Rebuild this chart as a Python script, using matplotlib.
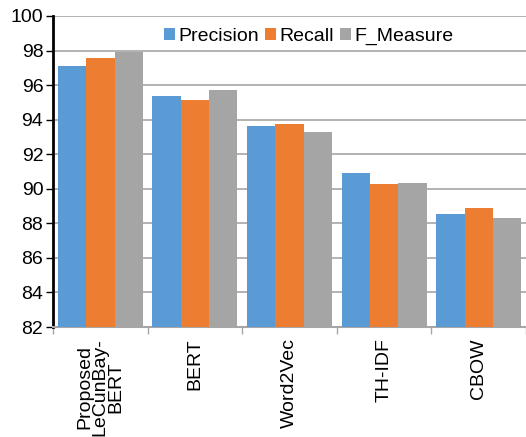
import numpy as np
import matplotlib
matplotlib.use('Agg')
import matplotlib.pyplot as plt

plt.rcParams['font.family'] = ['Liberation Sans', 'DejaVu Sans']

models = ['Proposed\nLeCunBay-\nBERT', 'BERT', 'Word2Vec', 'TH-IDF', 'CBOW']
precision = [97.1, 95.37, 93.63, 90.9, 88.53]
recall = [97.55, 95.15, 93.74, 90.27, 88.88]
f_measure = [97.9, 95.7, 93.26, 90.36, 88.31]

fig = plt.figure(figsize=(5.26, 4.37), dpi=100)
ax = fig.add_axes([0.1008, 0.2517, 0.8992, 0.7117])

x = np.arange(len(models))
w = 0.3
ax.bar(x - w, precision, w, color='#5B9BD5', label='Precision', zorder=3)
ax.bar(x, recall, w, color='#ED7D31', label='Recall', zorder=3)
ax.bar(x + w, f_measure, w, color='#A5A5A5', label='F_Measure', zorder=3)

ax.set_ylim(82, 100)
ax.set_yticks(np.arange(82, 101, 2))
ax.set_xlim(-0.5, len(models) - 0.5)
ax.yaxis.grid(True, color='#A6A6A6', linewidth=1.2, zorder=0)

# category boundaries get the tick marks, names sit in between
ax.set_xticks(np.arange(-0.5, len(models), 1))
ax.set_xticklabels([])
ax.set_xticks(x, minor=True)
ax.set_xticklabels(models, minor=True, rotation=90, fontsize=14,
                   linespacing=0.9)
ax.tick_params(axis='x', which='minor', length=0, pad=8)
ax.tick_params(axis='x', which='major', length=5, color='#A6A6A6', width=1)
ax.tick_params(axis='y', labelsize=14, length=5, width=1, pad=2)

for s in ['top', 'right']:
    ax.spines[s].set_visible(False)
ax.spines['left'].set_linewidth(2)
ax.spines['bottom'].set_color('#A6A6A6')
ax.spines['bottom'].set_linewidth(1.5)

ax.legend(loc='upper center', bbox_to_anchor=(0.54, 1.0), ncol=3,
          frameon=False, fontsize=14, handlelength=0.6, handleheight=0.6,
          handletextpad=0.15, columnspacing=0.3, borderaxespad=0.2)

fig.savefig('out.png', dpi=100)
